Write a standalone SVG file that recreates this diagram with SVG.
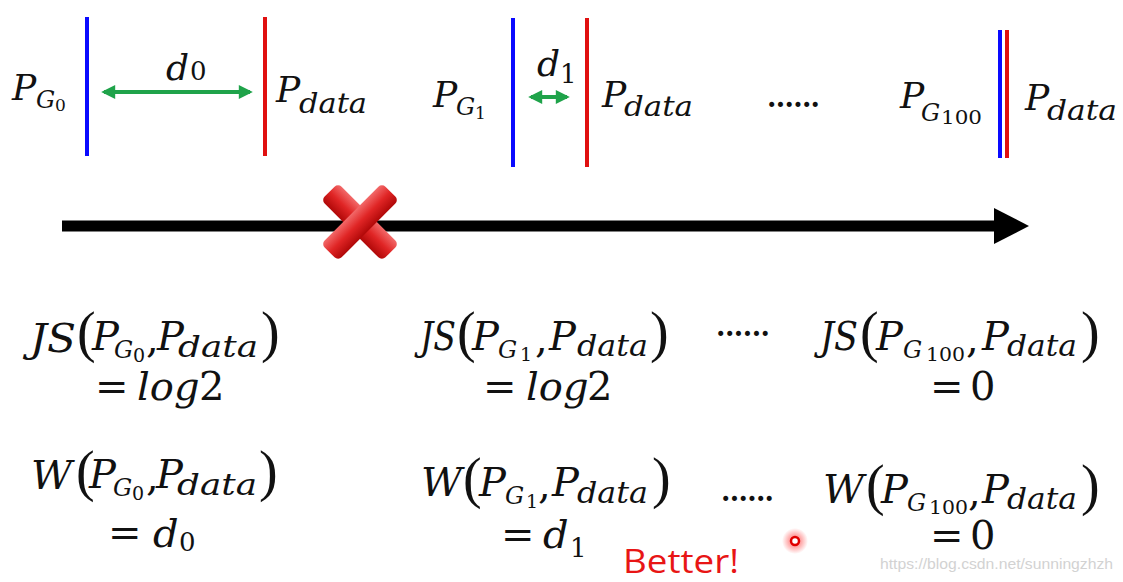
<svg xmlns="http://www.w3.org/2000/svg" width="1123" height="582" viewBox="0 0 1123 582">
<style>
.m{font-family:"DejaVu Serif",serif;font-style:italic;fill:#111}
.u{font-family:"DejaVu Serif",serif;fill:#111}
.par{font-family:"Liberation Serif",serif;fill:#111;font-size:56px}
.t36{font-size:36px}.t40{font-size:40px}.s24{font-size:24px}.s27{font-size:27px}.s29{font-size:29px}.s26{font-size:26px}.s17{font-size:17px}.s19{font-size:19px}
.blue{stroke:#0a0aff;stroke-width:4}
.red{stroke:#e01010;stroke-width:4}
.grn{stroke:#1fa34a;stroke-width:4;fill:none}
.dots{font-family:"DejaVu Serif",serif;font-size:27px;fill:#111;font-weight:bold}
</style>
<defs>
<marker id="ga" viewBox="0 0 10 10" refX="8" refY="5" markerWidth="16" markerHeight="14" markerUnits="userSpaceOnUse" orient="auto-start-reverse">
<path d="M0,0 L10,5 L0,10 Z" fill="#1fa34a"/>
</marker>
<linearGradient id="xg" x1="0" y1="0" x2="0" y2="1">
<stop offset="0" stop-color="#f26a6a"/>
<stop offset="0.5" stop-color="#e02525"/>
<stop offset="1" stop-color="#b00808"/>
</linearGradient>
<radialGradient id="glow">
<stop offset="0.3" stop-color="#ff3030" stop-opacity="0.55"/>
<stop offset="1" stop-color="#ff3030" stop-opacity="0"/>
</radialGradient>
</defs>
<rect width="1123" height="582" fill="#fff"/>

<g id="connectors">
<line x1="62" y1="226" x2="997" y2="226" stroke="#000" stroke-width="11"/>
<polygon points="994,208 1029,226 994,244" fill="#000"/>
<line class="grn" x1="104" y1="92" x2="250" y2="92" marker-start="url(#ga)" marker-end="url(#ga)"/>
<line class="grn" x1="531" y1="97" x2="567" y2="97" marker-start="url(#ga)" marker-end="url(#ga)"/>
</g>

<g id="cross">
<g transform="translate(360,222) rotate(45)">
<rect x="-43" y="-12" width="86" height="24" rx="5" fill="url(#xg)"/>
</g>
<g transform="translate(360,222) rotate(-45)">
<rect x="-43" y="-12" width="86" height="24" rx="5" fill="url(#xg)"/>
</g>
</g>

<g id="stage0">
<line class="blue" x1="87" y1="17" x2="87" y2="156"/>
<line class="red" x1="265" y1="17" x2="265" y2="156"/>
<text class="m t36" x="12" y="100">P</text>
<text class="m s24" x="36" y="108">G</text>
<text class="u s17" x="55" y="111">0</text>
<text class="m t36" x="166" y="80">d</text>
<text class="u s26" x="190" y="80">0</text>
<text class="m t36" x="276" y="102">P</text>
<text class="m s27" x="299" y="113" textLength="68" lengthAdjust="spacingAndGlyphs">data</text>
</g>

<g id="stage1">
<line class="blue" x1="513" y1="18" x2="513" y2="167"/>
<line class="red" x1="587" y1="18" x2="587" y2="167"/>
<text class="m t36" x="433" y="107">P</text>
<text class="m s24" x="456" y="115">G</text>
<text class="u s17" x="475" y="119">1</text>
<text class="m t36" x="537" y="76">d</text>
<text class="u s26" x="560" y="83">1</text>
<text class="m t36" x="602" y="107">P</text>
<text class="m s27" x="624" y="116" textLength="69" lengthAdjust="spacingAndGlyphs">data</text>
</g>

<g id="ellipsis-top">
<text class="dots" x="767" y="107" textLength="53">......</text>
</g>

<g id="stage100">
<line class="blue" x1="1000" y1="30" x2="1000" y2="158"/>
<line class="red" x1="1007" y1="30" x2="1007" y2="158"/>
<text class="m t36" x="900" y="108">P</text>
<text class="m s24" x="921" y="121">G</text>
<text class="u s19" x="941" y="124" textLength="41" lengthAdjust="spacingAndGlyphs">100</text>
<text class="m t36" x="1025" y="110">P</text>
<text class="m s27" x="1047" y="120" textLength="70" lengthAdjust="spacingAndGlyphs">data</text>
</g>

<g id="js0">
<text class="m t40" x="30" y="352" textLength="46" lengthAdjust="spacingAndGlyphs">JS</text>
<text class="par" x="77" y="351">(</text>
<text class="m t40" x="92" y="350">P</text>
<text class="m s24" x="114" y="358">G</text>
<text class="u s19" x="133" y="362">0</text>
<text class="u t40" x="146" y="352">,</text>
<text class="m t40" x="157" y="350">P</text>
<text class="m s29" x="178" y="357" textLength="80" lengthAdjust="spacingAndGlyphs">data</text>
<text class="par" x="261" y="351">)</text>
<text class="u t40" x="95" y="400">=</text>
<text class="m t40" x="137" y="400">log</text>
<text class="u t40" x="199" y="400">2</text>
</g>

<g id="w0">
<text class="m t40" x="31" y="489">W</text>
<text class="par" x="76" y="490">(</text>
<text class="m t40" x="89" y="488">P</text>
<text class="m s24" x="113" y="496">G</text>
<text class="u s19" x="132" y="500">0</text>
<text class="u t40" x="146" y="490">,</text>
<text class="m t40" x="156" y="488">P</text>
<text class="m s29" x="177" y="495" textLength="80" lengthAdjust="spacingAndGlyphs">data</text>
<text class="par" x="259" y="490">)</text>
<text class="u t40" x="108" y="546">=</text>
<text class="m t40" x="153" y="547">d</text>
<text class="u s26" x="179" y="551">0</text>
</g>

<g id="js1">
<text class="m t40" x="420" y="350" textLength="36" lengthAdjust="spacingAndGlyphs">JS</text>
<text class="par" x="457" y="351">(</text>
<text class="m t40" x="472" y="350">P</text>
<text class="m s24" x="498" y="358">G</text>
<text class="u s19" x="520" y="361">1</text>
<text class="u t40" x="535" y="352">,</text>
<text class="m t40" x="549" y="350">P</text>
<text class="m s29" x="577" y="356" textLength="71" lengthAdjust="spacingAndGlyphs">data</text>
<text class="par" x="650" y="351">)</text>
<text class="u t40" x="483" y="400">=</text>
<text class="m t40" x="526" y="400">log</text>
<text class="u t40" x="587" y="400">2</text>
</g>

<g id="ellipsis-js">
<text class="dots" x="716" y="336" textLength="54">......</text>
</g>

<g id="w1">
<text class="m t40" x="421" y="496">W</text>
<text class="par" x="463" y="497">(</text>
<text class="m t40" x="479" y="496">P</text>
<text class="m s24" x="505" y="504">G</text>
<text class="u s19" x="526" y="508">1</text>
<text class="u t40" x="538" y="498">,</text>
<text class="m t40" x="552" y="496">P</text>
<text class="m s29" x="577" y="503" textLength="71" lengthAdjust="spacingAndGlyphs">data</text>
<text class="par" x="652" y="497">)</text>
<text class="u t40" x="501" y="548">=</text>
<text class="m t40" x="543" y="548">d</text>
<text class="u s26" x="570" y="557">1</text>
</g>

<g id="ellipsis-w">
<text class="dots" x="721" y="501" textLength="53">......</text>
</g>

<g id="js100">
<text class="m t40" x="820" y="350" textLength="38" lengthAdjust="spacingAndGlyphs">JS</text>
<text class="par" x="860" y="351">(</text>
<text class="m t40" x="876" y="350">P</text>
<text class="m s24" x="903" y="358">G</text>
<text class="u s19" x="926" y="361" textLength="39" lengthAdjust="spacingAndGlyphs">100</text>
<text class="u t40" x="966" y="352">,</text>
<text class="m t40" x="982" y="350">P</text>
<text class="m s29" x="1007" y="356" textLength="70" lengthAdjust="spacingAndGlyphs">data</text>
<text class="par" x="1081" y="351">)</text>
<text class="u t40" x="930" y="400">=</text>
<text class="u t40" x="970" y="400">0</text>
</g>

<g id="w100">
<text class="m t40" x="823" y="503">W</text>
<text class="par" x="866" y="504">(</text>
<text class="m t40" x="881" y="503">P</text>
<text class="m s24" x="907" y="511">G</text>
<text class="u s19" x="929" y="514" textLength="39" lengthAdjust="spacingAndGlyphs">100</text>
<text class="u t40" x="968" y="505">,</text>
<text class="m t40" x="982" y="503">P</text>
<text class="m s29" x="1007" y="509" textLength="70" lengthAdjust="spacingAndGlyphs">data</text>
<text class="par" x="1081" y="504">)</text>
<text class="u t40" x="930" y="549">=</text>
<text class="u t40" x="970" y="549">0</text>
</g>

<g id="better">
<text x="623" y="573" font-family="Open Sans, sans-serif" font-size="33" fill="#e81515" textLength="116" lengthAdjust="spacingAndGlyphs">Better!</text>
</g>

<g id="pointer">
<circle cx="795" cy="541" r="13" fill="url(#glow)"/>
<circle cx="795" cy="541" r="4" fill="#fff" stroke="#e00000" stroke-width="2.5"/>
</g>

<g id="watermark">
<text x="880" y="569" font-family="Liberation Sans, sans-serif" font-size="15" fill="#d2d2d2" textLength="233" lengthAdjust="spacingAndGlyphs">https://blog.csdn.net/sunningzhzh</text>
</g>
</svg>
